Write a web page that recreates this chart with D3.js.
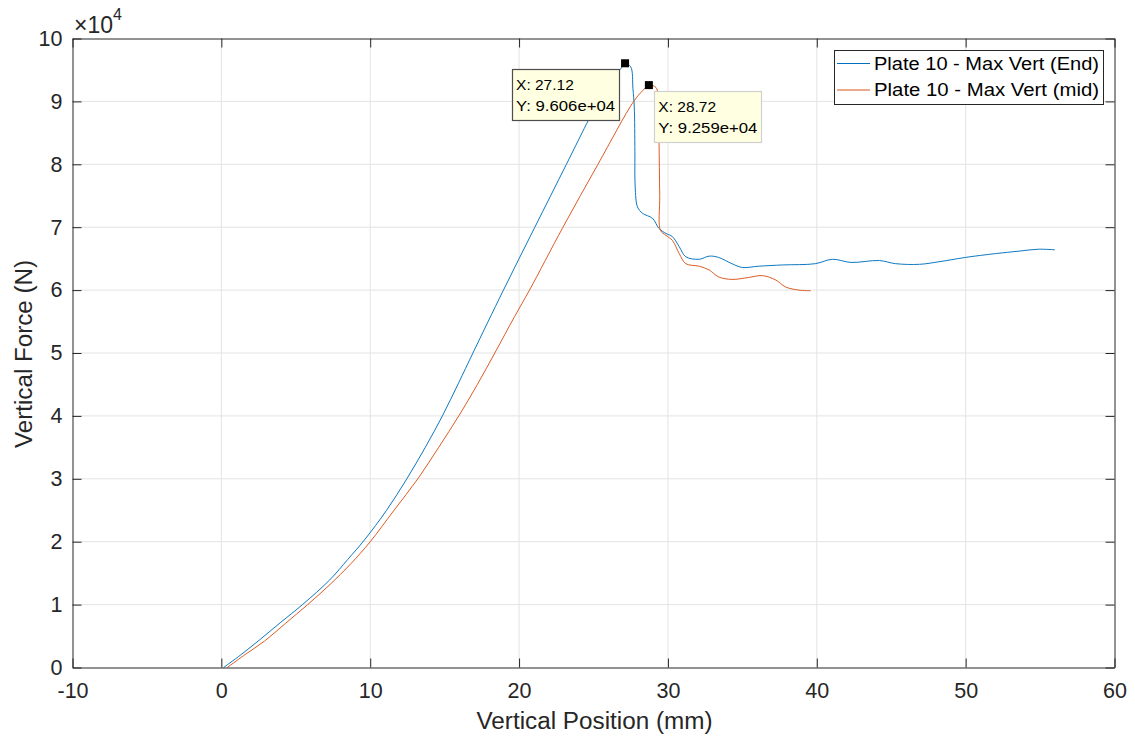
<!DOCTYPE html>
<html>
<head>
<meta charset="utf-8">
<script src="https://cdn.jsdelivr.net/npm/d3@7"></script>
<style>
  html, body { margin: 0; padding: 0; background: #fff; }
  svg { display: block; font-family: "Liberation Sans", Arial, Helvetica, sans-serif; }
</style>
</head>
<body>
<svg id="chart" width="1135" height="740"></svg>
<script>
// ---- data (x: mm, y: N) ----
const endX = [0.15, 1.3, 2.57, 4.0, 5.45, 7.27, 8.5, 9.62, 11.1, 12.46, 13.7, 14.85, 15.95, 16.9, 18.95, 21.06, 23.18, 24.72, 25.5, 26.3, 26.9, 27.12, 27.5, 27.65, 27.74, 27.78, 27.8, 27.96, 28.3, 28.97, 29.4, 29.87, 30.3, 30.76, 31.2, 32.1, 32.77, 33.4, 34.3, 35.0, 36.1, 37.7, 39.9, 41.05, 42.3, 44.2, 45.3, 46.9, 48.2, 50.0, 52.0, 53.6, 54.9, 56.0];
const endY = [0, 2000, 4400, 7200, 10000, 13900, 17200, 20300, 25000, 30000, 35000, 40000, 45300, 50000, 60000, 70000, 80000, 87300, 90800, 93700, 95400, 96060, 95500, 92000, 89100, 82000, 76400, 73200, 72200, 71400, 69800, 69000, 68500, 66900, 65300, 64900, 65400, 65200, 64200, 63600, 63800, 64000, 64200, 64900, 64400, 64700, 64200, 64100, 64500, 65200, 65800, 66200, 66500, 66400];
const midX = [0.4, 1.5, 2.9, 4.3, 5.8, 7.3, 8.7, 10.0, 11.6, 13.2, 14.6, 15.95, 17.2, 18.37, 19.7, 20.7, 22.95, 25.3, 27.7, 28.3, 28.72, 29.2, 29.35, 29.4, 29.45, 29.5, 29.87, 30.3, 30.76, 31.2, 32.1, 32.77, 33.4, 34.3, 35.4, 36.35, 37.25, 37.9, 38.8, 39.6];
const midY = [0, 1900, 4200, 7000, 10000, 13200, 16500, 20000, 25000, 30000, 35000, 40000, 45000, 50000, 55800, 60000, 70000, 80000, 90000, 91700, 92590, 92200, 90000, 84000, 75000, 69500, 68700, 67900, 65800, 64200, 63800, 63200, 62100, 61700, 62000, 62300, 61600, 60500, 60000, 59900];
const seriesNames = ["Plate 10 - Max Vert (End)", "Plate 10 - Max Vert (mid)"];
const seriesColors = ["#0072BD", "#D95319"];
const xTicks = [-10, 0, 10, 20, 30, 40, 50, 60];
const yTicks = [0, 10000, 20000, 30000, 40000, 50000, 60000, 70000, 80000, 90000, 100000];
const peakEnd = { x: 27.12, y: 96060, labelX: "X: 27.12", labelY: "Y: 9.606e+04" };
const peakMid = { x: 28.72, y: 92590, labelX: "X: 28.72", labelY: "Y: 9.259e+04" };

const svg = d3.select("#chart");
const L = 72.5, R = 1114.5, T = 38.5, B = 667.5;
const x = d3.scaleLinear().domain([-10, 60]).range([L, R]);
const y = d3.scaleLinear().domain([0, 100000]).range([B, T]);
const axisCol = "#262626";
const tickLen = 9;

// grid
const grid = svg.append("g");
grid.selectAll(".gx").data(xTicks.slice(1, -1)).join("line")
  .attr("x1", d => x(d)).attr("x2", d => x(d)).attr("y1", T).attr("y2", B)
  .attr("stroke", "#e3e3e3").attr("stroke-width", 1);
grid.selectAll(".gy").data(yTicks.slice(1, -1)).join("line")
  .attr("y1", d => y(d)).attr("y2", d => y(d)).attr("x1", L).attr("x2", R)
  .attr("stroke", "#e3e3e3").attr("stroke-width", 1);

// lines
const line = d3.line().x(d => x(d[0])).y(d => y(d[1])).curve(d3.curveCatmullRom.alpha(0.5));
const endData = endX.map((v, i) => [v, endY[i]]);
const midData = midX.map((v, i) => [v, midY[i]]);
svg.append("path").datum(endData).attr("d", line).attr("fill", "none")
  .attr("stroke", seriesColors[0]).attr("stroke-width", 0.95);
svg.append("path").datum(midData).attr("d", line).attr("fill", "none")
  .attr("stroke", seriesColors[1]).attr("stroke-width", 0.95);

// axes (box with inward ticks on all sides)
const fmtY = d => String(d / 10000);
const fmtX = d => String(d);
const axB = d3.axisBottom(x).tickValues(xTicks).tickSizeInner(-tickLen).tickSizeOuter(0).tickPadding(15).tickFormat(fmtX);
const axT = d3.axisTop(x).tickValues(xTicks).tickSizeInner(-tickLen).tickSizeOuter(0).tickFormat("");
const axLft = d3.axisLeft(y).tickValues(yTicks).tickSizeInner(-tickLen).tickSizeOuter(0).tickPadding(10).tickFormat(fmtY);
const axRgt = d3.axisRight(y).tickValues(yTicks).tickSizeInner(-tickLen).tickSizeOuter(0).tickFormat("");
function styleAxis(g) {
  g.select(".domain").attr("stroke", axisCol);
  g.selectAll(".tick line").attr("stroke", axisCol);
  g.selectAll(".tick text").attr("fill", axisCol).attr("font-size", "21.5px")
    .attr("font-family", "Liberation Sans, Arial, sans-serif");
}
svg.append("g").attr("transform", `translate(0,${B})`).call(axB).call(styleAxis);
svg.append("g").attr("transform", `translate(0,${T})`).call(axT).call(styleAxis);
svg.append("g").attr("transform", `translate(${L},0)`).call(axLft).call(styleAxis);
svg.append("g").attr("transform", `translate(${R},0)`).call(axRgt).call(styleAxis);

// exponent label
const expT = svg.append("text").attr("x", 74).attr("y", 33).attr("fill", axisCol)
  .attr("font-size", "23px");
expT.append("tspan").text("×10");
expT.append("tspan").attr("dy", -13).attr("font-size", "16px").text("4");

// axis titles
svg.append("text").attr("x", (L + R) / 2 + 1).attr("y", 729).attr("text-anchor", "middle")
  .attr("fill", axisCol).attr("font-size", "23px").attr("textLength", 236)
  .attr("lengthAdjust", "spacingAndGlyphs").text("Vertical Position (mm)");
svg.append("text").attr("transform", `translate(32,${(T + B) / 2 + 1}) rotate(-90)`)
  .attr("text-anchor", "middle").attr("fill", axisCol).attr("font-size", "23px")
  .attr("textLength", 188).attr("lengthAdjust", "spacingAndGlyphs")
  .text("Vertical Force (N)");

// legend
const lg = svg.append("g");
lg.append("rect").attr("x", 834.5).attr("y", 50.5).attr("width", 269).attr("height", 54)
  .attr("fill", "#fff").attr("stroke", axisCol).attr("stroke-width", 1);
seriesNames.forEach((n, i) => {
  const yy = 63.5 + i * 26.5;
  lg.append("line").attr("x1", 837).attr("x2", 870).attr("y1", yy).attr("y2", yy)
    .attr("stroke", seriesColors[i]).attr("stroke-width", 1);
  lg.append("text").attr("x", 874).attr("y", yy + 6).attr("fill", "#000")
    .attr("font-size", "17.5px").attr("textLength", 225).attr("lengthAdjust", "spacingAndGlyphs").text(n);
});

// data tips
function dataTip(p, dx, dy, dark) {
  const px = x(p.x), py = y(p.y);
  const g = svg.append("g");
  g.append("rect").attr("x", Math.round(px + dx) + 0.5).attr("y", Math.round(py + dy) + 0.5)
    .attr("width", 107).attr("height", 51).attr("fill", "#ffffe1")
    .attr("stroke", dark ? "#4d4d4d" : "#d0d0d0").attr("stroke-width", 1.2);
  g.append("text").attr("x", px + dx + 4).attr("y", py + dy + 21).attr("font-size", "15.5px")
    .attr("fill", "#000").text(p.labelX);
  g.append("text").attr("x", px + dx + 4).attr("y", py + dy + 42).attr("font-size", "15.5px")
    .attr("fill", "#000").attr("textLength", 99).attr("lengthAdjust", "spacingAndGlyphs").text(p.labelY);
  svg.append("rect").attr("x", px - 4).attr("y", py - 4).attr("width", 8).attr("height", 8).attr("fill", "#000");
}
dataTip(peakEnd, -113, 5.5, true);
dataTip(peakMid, 5.5, 5.5, false);
</script>
</body>
</html>
